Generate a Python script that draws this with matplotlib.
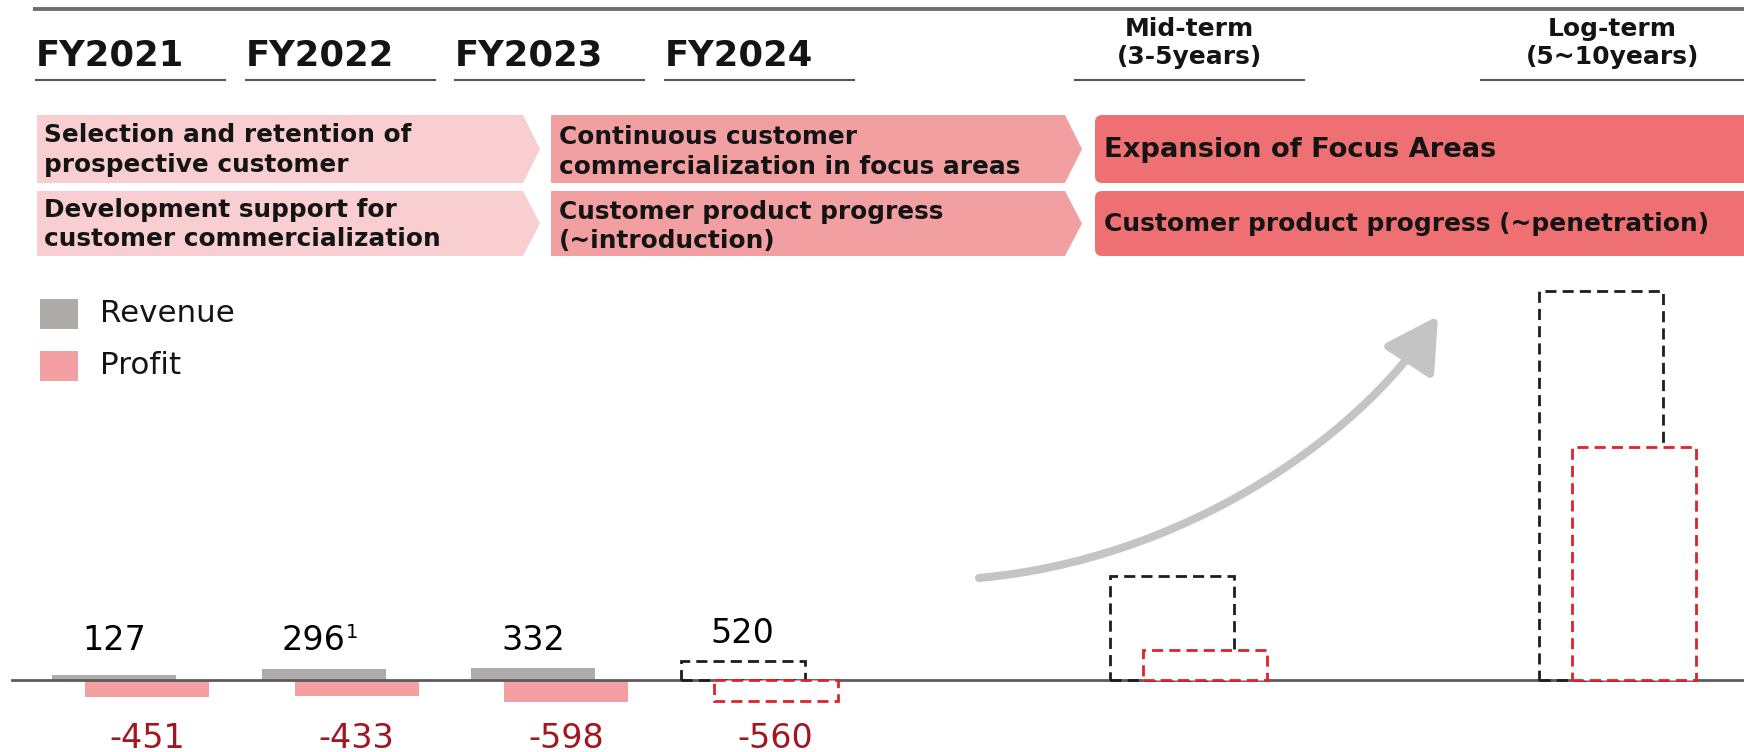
import numpy as np
import matplotlib
matplotlib.use("Agg")
import matplotlib.pyplot as plt
from matplotlib.patches import Polygon, Rectangle, FancyBboxPatch, FancyArrowPatch
from matplotlib.path import Path

# revenue / profit per period (plan periods drawn as dashed outlines)
periods = ["FY2021", "FY2022", "FY2023", "FY2024", "Mid-term", "Long-term"]
revenue = [127, 296, 332, 520, 2800, 10500]
profit = [-451, -433, -598, -560, 820, 6300]
is_plan = [False, False, False, True, True, True]
has_label = [True, True, True, True, False, False]
rev_note = ["", "1", "", "", "", ""]

# header texts
year_heads = ["FY2021", "FY2022", "FY2023", "FY2024"]
horizon_heads = [("Mid-term", "(3-5years)"), ("Log-term", "(5~10years)")]
phase1 = ["Selection and retention of\nprospective customer",
          "Development support for\ncustomer commercialization"]
phase2 = ["Continuous customer\ncommercialization in focus areas",
          "Customer product progress\n(~introduction)"]
phase3 = ["Expansion of Focus Areas",
          "Customer product progress (~penetration)"]
legend_names = ["Revenue", "Profit"]

GRAY = "#afabab"
PINK = "#f4a0a3"
DARKRED = "#a3161f"
DASH_RED = "#e0232b"
CHEV1 = "#f9ced0"
CHEV2 = "#f29fa2"
CHEV3 = "#ee7073"
TXT = "#141414"

W, H = 1744, 752
fig = plt.figure(figsize=(W / 100, H / 100), dpi=100)

# ---- bar chart (value axis) ----
ax = fig.add_axes([0, 0, 1, 1])
ax.set_axis_off()
slots = np.array([0, 1, 2, 3, 5.05, 7.1])
unit_px = 209.5
x0_px = 114
ax.set_xlim(-x0_px / unit_px, (W - x0_px) / unit_px)
base_px = 680
per_px = 27
ax.set_ylim(-(H - base_px) * per_px, base_px * per_px)

bw = 124 / unit_px
off = 33 / unit_px
dash = (0, (4, 2.2))
# label rows: revenue numbers sit on a common line unless the bar is taller
rev_row = (base_px - 650) * per_px
rev_gap = 18 * per_px
prof_row = -(738 - base_px) * per_px

for i in range(len(periods)):
    if is_plan[i]:
        ax.bar(slots[i], revenue[i], bw, facecolor="none", edgecolor="#1e1e1e",
               lw=2.0, ls=dash, zorder=3)
        ax.bar(slots[i] + off, profit[i], bw, facecolor="white", edgecolor=DASH_RED,
               lw=2.0, ls=dash, zorder=4)
    else:
        ax.bar(slots[i], revenue[i], bw, color=GRAY, zorder=2)
        ax.bar(slots[i] + off, profit[i], bw, color=PINK, zorder=2)
    if has_label[i]:
        ly = max(rev_row, revenue[i] + rev_gap)
        if rev_note[i]:
            # number shifted left so number + footnote mark stay centred
            ax.annotate(f"{revenue[i]}", xy=(slots[i], ly), xytext=(-7, 0),
                        textcoords="offset points", ha="center", va="baseline",
                        fontsize=24, color="black")
            ax.annotate(rev_note[i], xy=(slots[i], ly), xytext=(16, 9),
                        textcoords="offset points", ha="left", va="baseline",
                        fontsize=14, color="black")
        else:
            ax.text(slots[i], ly, f"{revenue[i]}", ha="center", va="baseline",
                    fontsize=24, color="black")
        ax.text(slots[i] + off, prof_row, f"{profit[i]}", ha="center", va="center",
                fontsize=24, color=DARKRED)

ax.axhline(0, xmin=12 / W, xmax=1, color="#5b5b5b", lw=2, zorder=2.5)

# ---- header, roadmap bands, legend, arrow (pixel coords) ----
deco = fig.add_axes([0, 0, 1, 1])
deco.set_axis_off()
deco.set_xlim(0, W)
deco.set_ylim(H, 0)

deco.plot([33, W], [9, 9], color="#6e6e6e", lw=2.8, solid_capstyle="butt")

year_x = [36, 246, 455, 665]
for x, name in zip(year_x, year_heads):
    deco.text(x, 66, name, fontsize=25.5, fontweight="bold", color=TXT,
              ha="left", va="baseline")
    deco.plot([x, x + 189], [80, 80], color="#555555", lw=1.5)

horizon_x = [(1075, 1304), (1481, 1744)]
for (xa, xb), (l1, l2) in zip(horizon_x, horizon_heads):
    cx = (xa + xb) / 2
    deco.text(cx, 36, l1, fontsize=18, fontweight="bold", color=TXT,
              ha="center", va="baseline")
    deco.text(cx, 64, l2, fontsize=18, fontweight="bold", color=TXT,
              ha="center", va="baseline")
    deco.plot([xa, xb], [80, 80], color="#555555", lw=1.5)

rows = [(115, 183), (191, 256)]


def chevron(x_left, x_body, x_tip, top, bottom, color):
    mid = (top + bottom) / 2
    pts = [(x_left, top), (x_body, top), (x_tip, mid), (x_body, bottom), (x_left, bottom)]
    deco.add_patch(Polygon(pts, closed=True, facecolor=color, edgecolor="none"))


for r, (top, bot) in enumerate(rows):
    chevron(37, 523, 540, top, bot, CHEV1)
    chevron(551, 1065, 1082, top, bot, CHEV2)
    deco.add_patch(FancyBboxPatch((1095, top), W - 1095 + 12, bot - top,
                                  boxstyle="round,pad=0,rounding_size=7",
                                  facecolor=CHEV3, edgecolor="none"))
    cy = (top + bot) / 2
    deco.text(44, cy + 1, phase1[r], fontsize=17.8, fontweight="bold", color=TXT,
              ha="left", va="center", linespacing=1.28)
    deco.text(559, cy + 3, phase2[r], fontsize=17.8, fontweight="bold", color=TXT,
              ha="left", va="center", linespacing=1.28)
    deco.text(1104, cy + 1, phase3[r], fontsize=19.7 if r == 0 else 17.9,
              fontweight="bold", color=TXT, ha="left", va="center")

# legend
for (y, name, col) in zip([314, 366], legend_names, [GRAY, PINK]):
    deco.add_patch(Rectangle((40, y - 15), 38, 30, facecolor=col, edgecolor="none"))
    deco.text(100, y, name, fontsize=22.3, color=TXT, ha="left", va="center")

# growth arrow
curve = Path([(979, 578), (1178, 560), (1355, 443), (1438, 316)],
             [Path.MOVETO, Path.CURVE4, Path.CURVE4, Path.CURVE4])
deco.add_patch(FancyArrowPatch(path=curve, arrowstyle="-|>,head_length=1.6,head_width=0.9",
                               mutation_scale=20, color="#c4c4c4", lw=5.8))

fig.savefig("out.png", dpi=100)
